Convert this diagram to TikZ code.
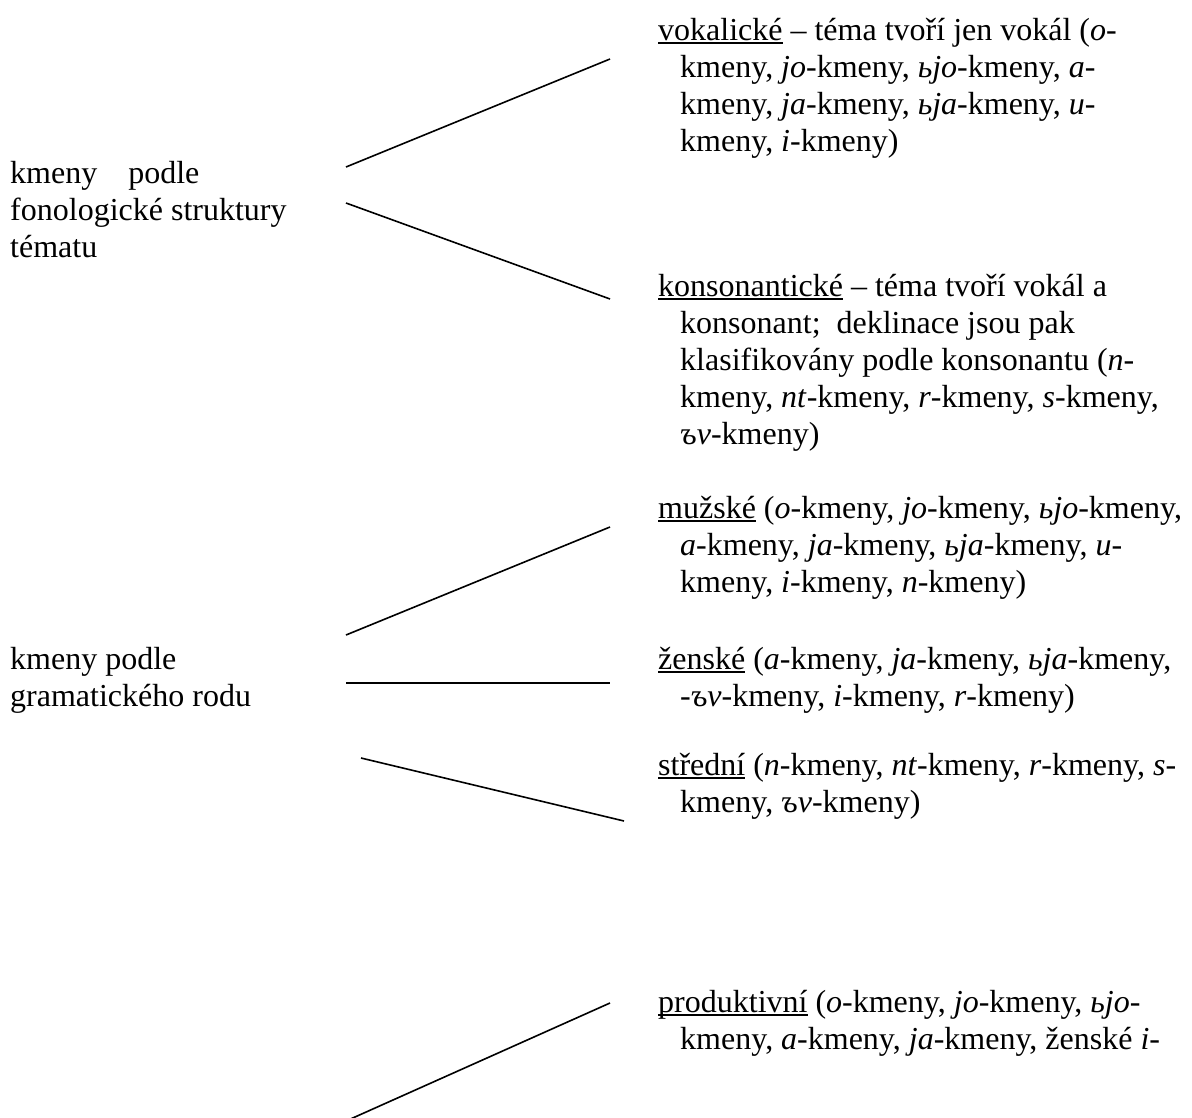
\documentclass[tikz,border=0pt]{standalone}
\usepackage{fontspec}
\setmainfont{Liberation Serif}
\newsavebox\ulbox
\newcommand\ulx[1]{\sbox\ulbox{#1}\rlap{\rule[-4pt]{\wd\ulbox}{1.8pt}}\usebox\ulbox}
\newcommand\ind{\hspace*{22pt}}
\begin{document}
\begin{tikzpicture}[x=1pt,y=-1pt,
  txt/.style={anchor=north west,inner sep=0pt,align=left,font=\fontsize{32}{37}\selectfont},
  conn/.style={line width=1.6pt,black}]
\clip (0,0) rectangle (1192,1117);
\fill[white] (0,0) rectangle (1192,1117);

% left column
\node[txt] (fon) at (10,157.1) {\strut kmeny\hspace{31pt}podle\\fonologické struktury\\tématu};
\node[txt] (rod) at (10,643.1) {\strut kmeny podle\\gramatického rodu};

% right column
\node[txt] (vok) at (658,14.1) {\strut\ulx{vokalické} – téma tvoří jen vokál (\textit{o}-\\
\ind kmeny, \textit{jo}-kmeny, \textit{ьjo}-kmeny, \textit{a}-\\
\ind kmeny, \textit{ja}-kmeny, \textit{ьja}-kmeny, \textit{u}-\\
\ind kmeny, \textit{i}-kmeny)};

\node[txt] (kons) at (658,270.1) {\strut\ulx{konsonantické} – téma tvoří vokál a\\
\ind konsonant;\ \ deklinace jsou pak\\
\ind klasifikovány podle konsonantu (\textit{n}-\\
\ind kmeny, \textit{nt}-kmeny, \textit{r}-kmeny, \textit{s}-kmeny,\\
\ind \textit{ъv}-kmeny)};

\node[txt] (muz) at (658,492.1) {\strut\ulx{mužské} (\textit{o}-kmeny, \textit{jo}-kmeny, \textit{ьjo}-kmeny,\\
\ind \textit{a}-kmeny, \textit{ja}-kmeny, \textit{ьja}-kmeny, \textit{u}-\\
\ind kmeny, \textit{i}-kmeny, \textit{n}-kmeny)};

\node[txt] (zen) at (658,643.1) {\strut\ulx{ženské} (\textit{a}-kmeny, \textit{ja}-kmeny, \textit{ьja}-kmeny,\\
\ind -\textit{ъv}-kmeny, \textit{i}-kmeny, \textit{r}-kmeny)};

\node[txt] (str) at (658,749.1) {\strut\ulx{střední} (\textit{n}-kmeny, \textit{nt}-kmeny, \textit{r}-kmeny, \textit{s}-\\
\ind kmeny, \textit{ъv}-kmeny)};

\node[txt] (prod) at (658,986.1) {\strut\ulx{produktivní} (\textit{o}-kmeny, \textit{jo}-kmeny, \textit{ьjo}-\\
\ind kmeny, \textit{a}-kmeny, \textit{ja}-kmeny, ženské \textit{i}-};

% connector end points
\coordinate (c1a) at (346,167);  \coordinate (c1b) at (610,59);
\coordinate (c2a) at (346,203);  \coordinate (c2b) at (610,299);
\coordinate (c3a) at (346,635);  \coordinate (c3b) at (610,527);
\coordinate (c4a) at (346,683);  \coordinate (c4b) at (610,683);
\coordinate (c5a) at (361,758);  \coordinate (c5b) at (624,821);
\coordinate (c6a) at (346,1121); \coordinate (c6b) at (610,1003);

\draw[conn] (c1a) -- (c1b);
\draw[conn] (c2a) -- (c2b);
\draw[conn] (c3a) -- (c3b);
\draw[conn] (c4a) -- (c4b);
\draw[conn] (c5a) -- (c5b);
\draw[conn] (c6a) -- (c6b);
\end{tikzpicture}
\end{document}
